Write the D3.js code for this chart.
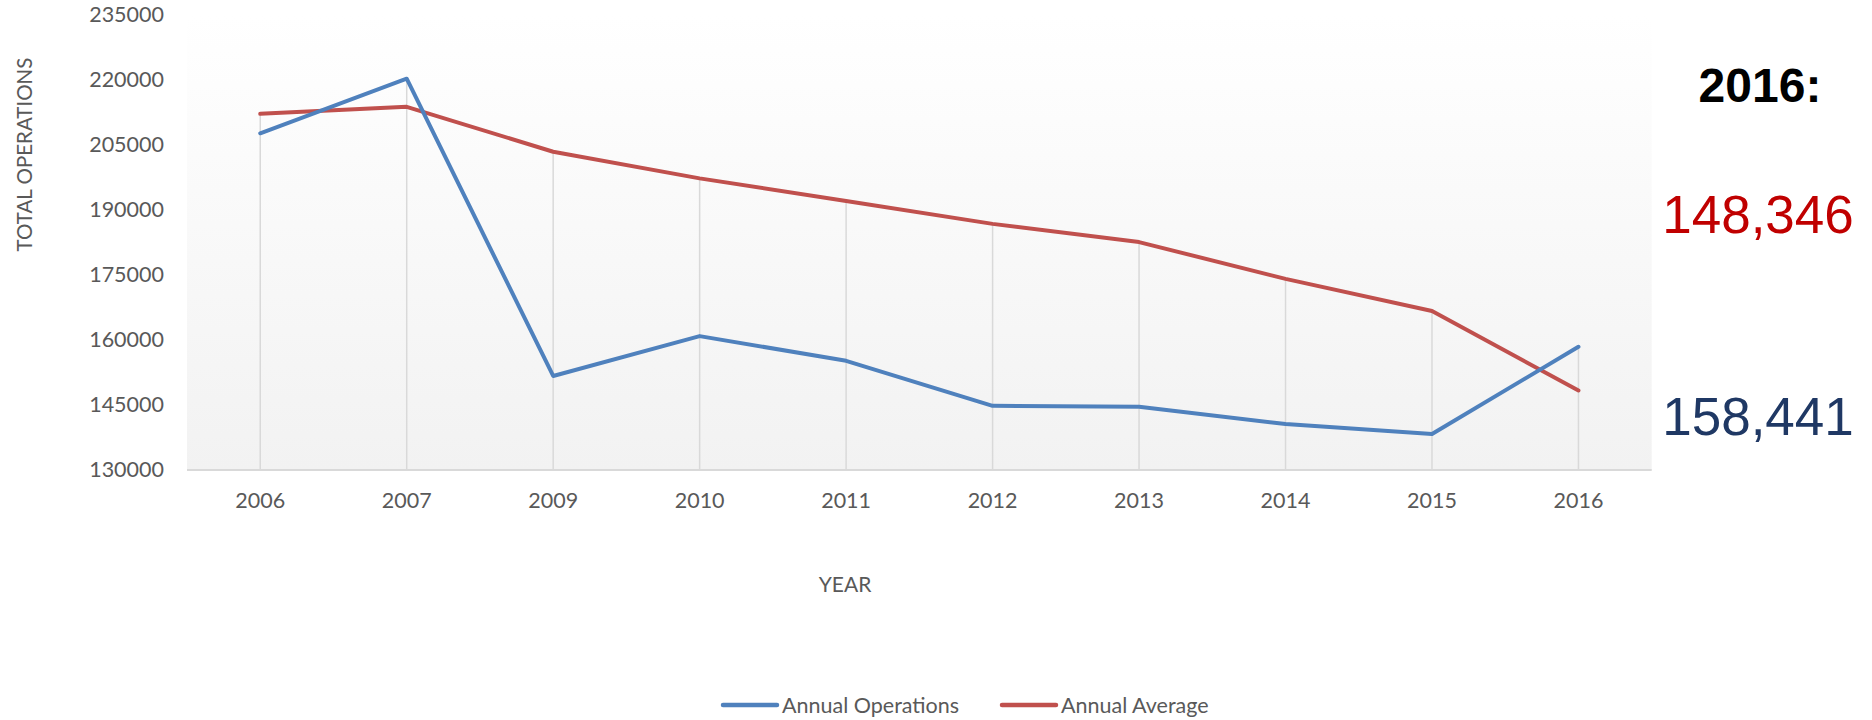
<!DOCTYPE html>
<html>
<head>
<meta charset="utf-8">
<script src="https://cdnjs.cloudflare.com/ajax/libs/d3/7.8.5/d3.min.js"></script>
<style>
  body { margin: 0; background: #fff; }
  svg text { font-family: Lato, "Open Sans", sans-serif; }
</style>
</head>
<body>
<div id="chart"></div>
<script>

// ### DATA
var years = ['2006', '2007', '2009', '2010', '2011', '2012', '2013', '2014', '2015', '2016'];
var annualOperations = [207700, 220300, 151700, 160900, 155200, 144800, 144600, 140600, 138300, 158441];
var annualAverage = [212200, 213800, 203450, 197300, 192100, 186800, 182600, 174100, 166700, 148346];
var yTicks = [130000, 145000, 160000, 175000, 190000, 205000, 220000, 235000];
var seriesNames = ['Annual Operations', 'Annual Average'];

var width = 1872, height = 720;
var plot = { left: 187, right: 1651.7, top: 15, bottom: 470 };

var svg = d3.select('#chart').
  append('svg').
  attr('width', width).
  attr('height', height);

var x = d3.scaleBand()
  .domain(years)
  .range([plot.left, plot.right])
  .padding(0);

var y = d3.scaleLinear()
  .domain([130000, 235000])
  .range([plot.bottom, plot.top]);

function cx(d) { return x(d) + x.bandwidth() / 2; }

// plot area background, white at top fading to light grey
var grad = svg.append('defs').append('linearGradient').
  attr('id', 'bg').
  attr('x1', 0).attr('y1', 0).attr('x2', 0).attr('y2', 1);
grad.append('stop').attr('offset', '0%').attr('stop-color', '#ffffff');
grad.append('stop').attr('offset', '100%').attr('stop-color', '#f2f2f2');

svg.append('rect').
  attr('x', plot.left).
  attr('y', plot.top).
  attr('width', plot.right - plot.left).
  attr('height', plot.bottom - plot.top).
  attr('fill', 'url(#bg)');

// drop lines from highest point down to the axis
svg.selectAll('line.drop').
  data(years).
  enter().
  append('line').
  attr('class', 'drop').
  attr('x1', cx).
  attr('x2', cx).
  attr('y1', function(d, i) { return y(Math.max(annualOperations[i], annualAverage[i])); }).
  attr('y2', y(130000)).
  attr('stroke', '#d9d9d9').
  attr('stroke-width', 1.5);

// category axis line
svg.append('line').
  attr('x1', plot.left).
  attr('x2', plot.right).
  attr('y1', y(130000)).
  attr('y2', y(130000)).
  attr('stroke', '#d9d9d9').
  attr('stroke-width', 2);

// axes
var yAxis = svg.append('g')
  .attr('transform', 'translate(' + plot.left + ',0)')
  .call(d3.axisLeft(y).tickValues(yTicks).tickSize(0).tickPadding(23).tickFormat(d3.format('d')));

var xAxis = svg.append('g')
  .attr('transform', 'translate(0,' + plot.bottom + ')')
  .call(d3.axisBottom(x).tickSize(0).tickPadding(23));

[yAxis, xAxis].forEach(function(ax) {
  ax.select('.domain').remove();
  ax.selectAll('text')
    .style('font-family', 'Lato, sans-serif')
    .style('font-size', '21.5px')
    .attr('fill', '#595959');
});

// axis titles
svg.append('text').
  attr('transform', 'translate(32,154.5) rotate(-90)').
  attr('text-anchor', 'middle').
  attr('fill', '#595959').
  style('font-size', '20.5px').
  text('TOTAL OPERATIONS');

svg.append('text').
  attr('x', 845).
  attr('y', 592).
  attr('text-anchor', 'middle').
  attr('fill', '#595959').
  style('font-size', '21px').
  text('YEAR');

// ### LINES
var line = d3.line()
  .x(function(d, i) { return cx(years[i]); })
  .y(function(d) { return y(d); });

var colors = ['#4f81bd', '#c0504d'];

svg.append('path').
  datum(annualAverage).
  attr('d', line).
  attr('fill', 'none').
  attr('stroke', colors[1]).
  attr('stroke-width', 4).
  attr('stroke-linejoin', 'round').
  attr('stroke-linecap', 'round');

svg.append('path').
  datum(annualOperations).
  attr('d', line).
  attr('fill', 'none').
  attr('stroke', colors[0]).
  attr('stroke-width', 4).
  attr('stroke-linejoin', 'round').
  attr('stroke-linecap', 'round');

// ### LEGEND
var legendItems = [
  { name: seriesNames[0], color: colors[0], x: 723 },
  { name: seriesNames[1], color: colors[1], x: 1002 }
];

var legend = svg.selectAll('g.legend').
  data(legendItems).
  enter().
  append('g').
  attr('class', 'legend').
  attr('transform', function(d) { return 'translate(' + d.x + ',705)'; });

legend.append('line').
  attr('x1', 0).
  attr('x2', 54).
  attr('stroke', function(d) { return d.color; }).
  attr('stroke-width', 4.5).
  attr('stroke-linecap', 'round');

legend.append('text').
  attr('x', 59).
  attr('y', 8).
  attr('fill', '#595959').
  style('font-size', '21.5px').
  text(function(d) { return d.name; });

// ### 2016 CALLOUT
var last = years.length - 1;
var fmt = d3.format(',');

svg.append('text').
  attr('x', 1760).
  attr('y', 101.5).
  attr('text-anchor', 'middle').
  style('font-family', '"Liberation Sans", Arial, sans-serif').
  style('font-weight', 'bold').
  style('font-size', '48px').
  attr('fill', '#000').
  text(years[last] + ':');

svg.append('text').
  attr('x', 1758).
  attr('y', 233).
  attr('text-anchor', 'middle').
  style('font-family', '"Liberation Sans", Arial, sans-serif').
  style('font-size', '53px').
  attr('fill', '#c00000').
  text(fmt(annualAverage[last]));

svg.append('text').
  attr('x', 1758).
  attr('y', 435).
  attr('text-anchor', 'middle').
  style('font-family', '"Liberation Sans", Arial, sans-serif').
  style('font-size', '53px').
  attr('fill', '#1f3864').
  text(fmt(annualOperations[last]));

</script>
</body>
</html>
